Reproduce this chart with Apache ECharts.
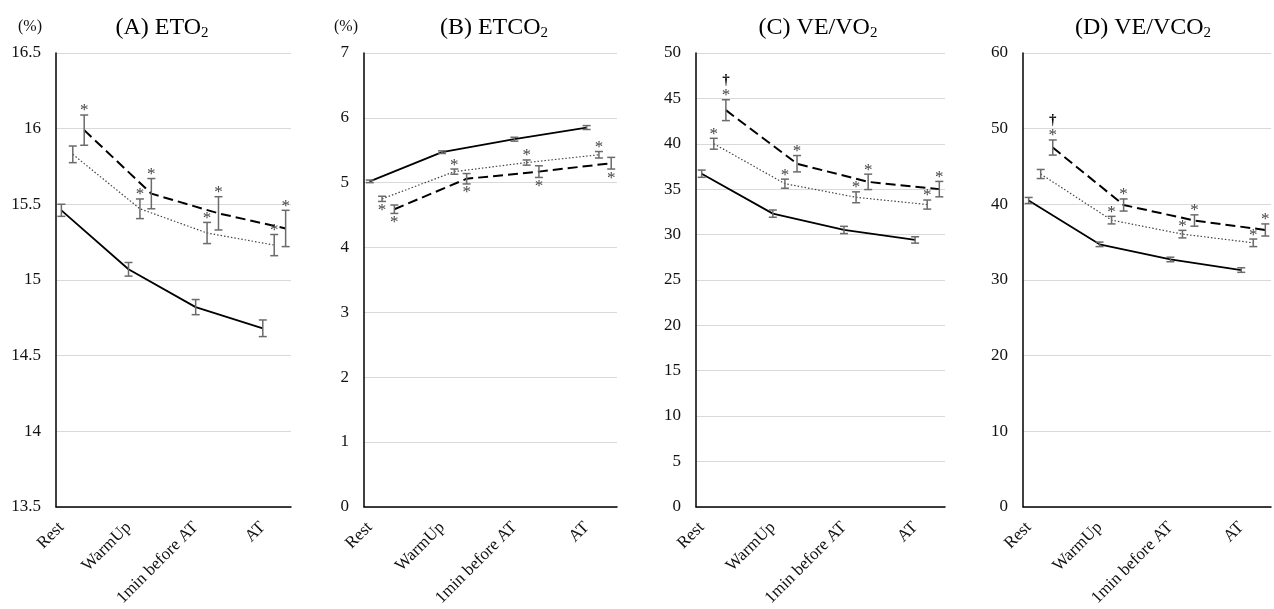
<!DOCTYPE html>
<html><head><meta charset="utf-8">
<script src="https://cdn.jsdelivr.net/npm/echarts@6/dist/echarts.min.js"></script>
<style>html,body{margin:0;padding:0;background:#fff}#c{width:1274px;height:609px}</style>
</head><body><div id="c"></div>
<script>
const categories = ["Rest", "WarmUp", "1min before AT", "AT"];

// (A) ETO2
const A_ctrl = [15.46, 15.07, 14.82, 14.68];
const A_ctrl_err = [0.04, 0.045, 0.05, 0.055];
const A_mid = [15.83, 15.47, 15.31, 15.23];
const A_mid_err = [0.055, 0.065, 0.07, 0.07];
const A_high = [15.99, 15.57, 15.44, 15.34];
const A_high_err = [0.10, 0.10, 0.11, 0.12];
const A_mid_sig = ["", "*", "*", "*"];
const A_mid_side = ["above", "above", "above", "above"];
const A_high_sig = ["*", "*", "*", "*"];
const A_high_side = ["above", "above", "above", "above"];

// (B) ETCO2
const B_ctrl = [5.02, 5.47, 5.67, 5.85];
const B_ctrl_err = [0.02, 0.02, 0.03, 0.03];
const B_mid = [4.75, 5.17, 5.31, 5.43];
const B_mid_err = [0.04, 0.04, 0.04, 0.05];
const B_high = [4.59, 5.06, 5.17, 5.30];
const B_high_err = [0.065, 0.08, 0.09, 0.09];
const B_mid_sig = ["*", "*", "*", "*"];
const B_mid_side = ["below", "above", "above", "above"];
const B_high_sig = ["*", "*", "*", "*"];
const B_high_side = ["below", "below", "below", "below"];

// (C) VE/VO2
const C_ctrl = [36.7, 32.3, 30.5, 29.4];
const C_ctrl_err = [0.4, 0.4, 0.4, 0.35];
const C_mid = [40.0, 35.6, 34.1, 33.3];
const C_mid_err = [0.6, 0.5, 0.6, 0.5];
const C_high = [43.7, 37.8, 35.8, 35.0];
const C_high_err = [1.15, 0.9, 0.85, 0.85];
const C_mid_sig = ["*", "*", "*", "*"];
const C_mid_side = ["above", "above", "above", "above"];
const C_high_sig = ["*†", "*", "*", "*"];
const C_high_side = ["above", "above", "above", "above"];

// (D) VE/VCO2
const D_ctrl = [40.5, 34.7, 32.7, 31.3];
const D_ctrl_err = [0.4, 0.3, 0.3, 0.3];
const D_mid = [44.0, 37.9, 36.05, 34.9];
const D_mid_err = [0.6, 0.5, 0.5, 0.5];
const D_high = [47.5, 39.9, 37.85, 36.6];
const D_high_err = [1.0, 0.8, 0.75, 0.8];
const D_mid_sig = ["", "*", "*", "*"];
const D_mid_side = ["above", "above", "above", "above"];
const D_high_sig = ["*†", "*", "*", "*"];
const D_high_side = ["above", "above", "above", "above"];

const titles = [["(A) ETO", "2"], ["(B) ETCO", "2"], ["(C) VE/VO", "2"], ["(D) VE/VCO", "2"]];
const yMin = [13.5, 0, 0, 0];
const yMax = [16.5, 7, 50, 60];
const yStep = [0.5, 1, 5, 10];
const yUnit = ["(%)", "(%)", "", ""];

const FONT = '"Liberation Serif","Times New Roman",serif';

const panels = [
  {ctrl:[A_ctrl,A_ctrl_err], mid:[A_mid,A_mid_err,A_mid_sig,A_mid_side], high:[A_high,A_high_err,A_high_sig,A_high_side]},
  {ctrl:[B_ctrl,B_ctrl_err], mid:[B_mid,B_mid_err,B_mid_sig,B_mid_side], high:[B_high,B_high_err,B_high_sig,B_high_side]},
  {ctrl:[C_ctrl,C_ctrl_err], mid:[C_mid,C_mid_err,C_mid_sig,C_mid_side], high:[C_high,C_high_err,C_high_sig,C_high_side]},
  {ctrl:[D_ctrl,D_ctrl_err], mid:[D_mid,D_mid_err,D_mid_sig,D_mid_side], high:[D_high,D_high_err,D_high_sig,D_high_side]}
];

// layout
const gridBoxes = [
  {left: 56, width: 235},
  {left: 364, width: 253},
  {left: 696, width: 249},
  {left: 1023, width: 248}
];
const titleCenters = [157, 489, 813, 1138];
const unitPad = [14, 6, 0, 0];
const DODGE = [0, 0.17, 0.34];

const chart = echarts.init(document.getElementById('c'), null, {renderer: 'canvas'});

const grid = [], xAxis = [], yAxis = [], series = [], title = [];

function errorSeries(p, vals, errs, sig, side, off) {
  return {
    type: 'custom', xAxisIndex: p, yAxisIndex: p, z: 4, clip: false,
    data: vals.map((v, i) => [i + 1 + off, v, errs[i], i]),
    encode: {x: 0, y: 1},
    renderItem: function (params, api) {
      const x = api.value(0), m = api.value(1), e = api.value(2), idx = api.value(3);
      const t = api.coord([x, m + e]), b = api.coord([x, m - e]);
      const st = {stroke: '#6b6b6b', lineWidth: 1.5};
      const ch = [
        {type: 'line', shape: {x1: t[0], y1: t[1], x2: b[0], y2: b[1]}, style: st},
        {type: 'line', shape: {x1: t[0] - 4, y1: t[1], x2: t[0] + 4, y2: t[1]}, style: st},
        {type: 'line', shape: {x1: b[0] - 4, y1: b[1], x2: b[0] + 4, y2: b[1]}, style: st}
      ];
      const s = sig ? sig[idx] : '';
      if (s && s.indexOf('*') >= 0) {
        const below = side[idx] === 'below';
        const yy = below ? b[1] + 9 : t[1] - 4;
        ch.push({type: 'text', style: {text: '*', x: t[0], y: yy, align: 'center', verticalAlign: 'middle',
          font: '17px ' + FONT, fill: '#444'}});
        if (s.indexOf('†') >= 0) {
          ch.push({type: 'text', style: {text: '†', x: t[0], y: t[1] - 20, align: 'center', verticalAlign: 'middle',
            font: 'bold 15px ' + FONT, fill: '#000'}});
        }
      }
      return {type: 'group', children: ch};
    }
  };
}

panels.forEach((pd, p) => {
  grid.push({left: gridBoxes[p].left, width: gridBoxes[p].width, top: 53, bottom: 102});
  xAxis.push({
    type: 'value', gridIndex: p, min: 0.92, max: 4.42,
    axisLine: {show: true, lineStyle: {color: '#000', width: 1.5}},
    axisTick: {show: false}, splitLine: {show: false},
    axisLabel: {
      customValues: [1, 2, 3, 4], rotate: 45, margin: 18,
      formatter: v => categories[Math.round(v) - 1] || '',
      fontFamily: FONT, fontSize: 17, color: '#111'
    }
  });
  yAxis.push({
    type: 'value', gridIndex: p, min: yMin[p], max: yMax[p], interval: yStep[p],
    name: yUnit[p], nameLocation: 'end', nameGap: 26,
    nameTextStyle: {fontFamily: FONT, fontSize: 16, color: '#111', align: 'right', verticalAlign: 'middle',
      padding: [0, unitPad[p], 0, 0]},
    axisLine: {show: true, lineStyle: {color: '#000', width: 1.5}},
    axisTick: {show: false},
    splitLine: {show: true, lineStyle: {color: '#d9d9d9', width: 1.2}},
    axisLabel: {fontFamily: FONT, fontSize: 17, color: '#111', margin: 15}
  });
  title.push({
    text: '{t|' + titles[p][0] + '}{s|' + titles[p][1] + '}',
    left: titleCenters[p], textAlign: 'center', top: 10,
    textStyle: {fontWeight: 'normal', rich: {
      t: {fontFamily: FONT, fontSize: 24, fontWeight: 'normal', color: '#000'},
      s: {fontFamily: FONT, fontSize: 15, fontWeight: 'normal', color: '#000', padding: [11, 0, 0, 0]}
    }}
  });
  const groups = [
    {d: pd.ctrl, off: DODGE[0], ls: {color: '#000', width: 1.8, type: 'solid'}},
    {d: pd.mid, off: DODGE[1], ls: {color: '#444', width: 1.2, type: [1.5, 2]}},
    {d: pd.high, off: DODGE[2], ls: {color: '#000', width: 2, type: [10, 5]}}
  ];
  groups.forEach(g => {
    series.push({
      type: 'line', xAxisIndex: p, yAxisIndex: p, z: 3,
      data: g.d[0].map((v, i) => [i + 1 + g.off, v]),
      symbol: 'none', showSymbol: false, lineStyle: g.ls, animation: false
    });
    series.push(errorSeries(p, g.d[0], g.d[1], g.d[2], g.d[3], g.off));
  });
});

chart.setOption({animation: false, backgroundColor: '#fff', title, grid, xAxis, yAxis, series});
</script>
</body></html>
